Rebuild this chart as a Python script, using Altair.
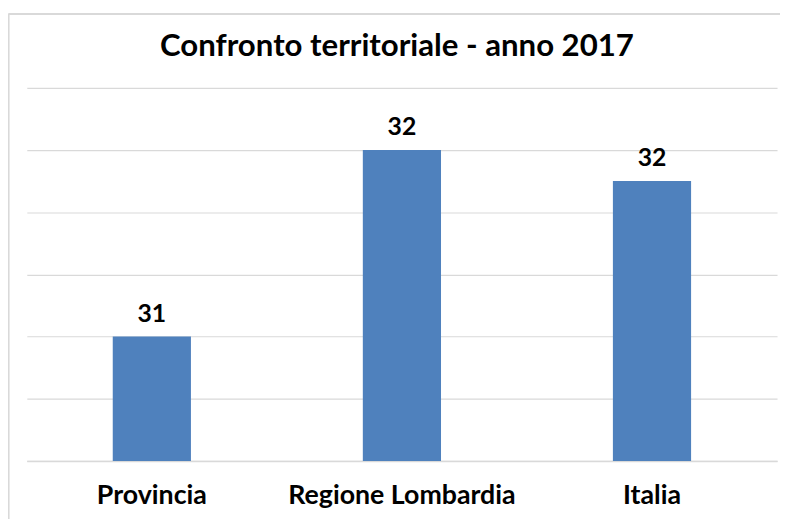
import altair as alt
import pandas as pd

categories = ["Provincia", "Regione Lombardia", "Italia"]
values = [31.2, 31.8, 31.7]
labels = ["31", "32", "32"]
y_min, y_max = 30.8, 32.0
grid_values = [30.8, 31.0, 31.2, 31.4, 31.6, 31.8, 32.0]

df = pd.DataFrame({"cat": categories, "val": values, "lab": labels})

FONT = "Lato"

x = alt.X("cat:N", sort=categories, title=None,
          scale=alt.Scale(paddingInner=0, paddingOuter=0),
          axis=alt.Axis(labelAngle=0, labelFont=FONT, labelFontWeight="bold",
                        labelFontSize=27, labelColor="#000000", labelPadding=22,
                        labelLimit=0, ticks=False, domainColor="#d9d9d9", domainWidth=1.5))
y = alt.Y("val:Q", title=None,
          scale=alt.Scale(domain=[y_min, y_max], zero=False, nice=False),
          axis=alt.Axis(labels=False, ticks=False, domain=False,
                        values=grid_values,
                        gridColor="#d9d9d9", gridWidth=1.2))

bars = alt.Chart(df).mark_bar(size=79, color="#4f81bd").encode(
    x=x, y=y, y2=alt.datum(y_min))
text = alt.Chart(df).mark_text(baseline="alphabetic", dy=-15, font=FONT,
                               fontWeight="bold", fontSize=25, color="#000000").encode(
    x=alt.X("cat:N", sort=categories), y="val:Q", text="lab:N")

# chart-area frame (top and left edges visible in the reference)
frame_top = alt.Chart(df).mark_rule(stroke="#d9d9d9", strokeWidth=1.5).encode(
    x=alt.value(-18.5), x2=alt.value(761), y=alt.value(-74.5))
frame_left = alt.Chart(df).mark_rule(stroke="#d9d9d9", strokeWidth=1.5).encode(
    x=alt.value(-18.5), y=alt.value(-74.5), y2=alt.value(440))

chart = alt.layer(bars, text, frame_top, frame_left).properties(
    width=758, height=377,
    title=alt.TitleParams("Confronto territoriale - anno 2017", font=FONT,
                          fontWeight="bold", fontSize=31.5, color="#000000",
                          anchor="middle", baseline="alphabetic", offset=-75,
                          dx=-5, frame="group"),
    autosize=alt.AutoSizeParams(type="none"),
    padding={"left": 19, "top": 78, "right": 3, "bottom": 56},
).configure_view(stroke=None)

chart.save("out.html", embed_options={"renderer": "svg", "actions": False})
